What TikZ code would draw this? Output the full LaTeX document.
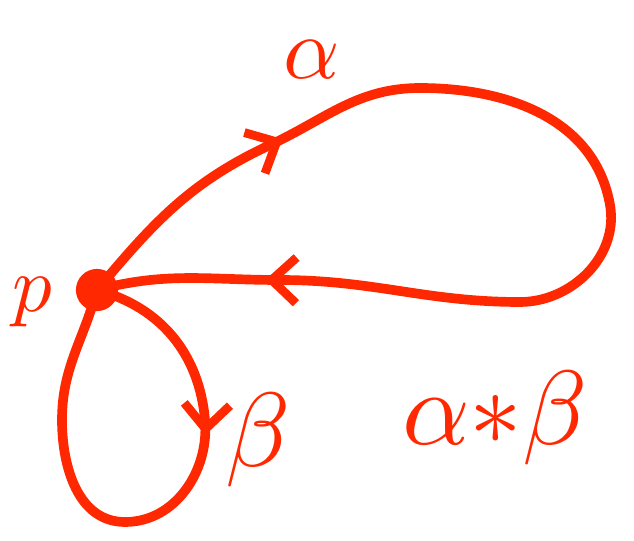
\documentclass[tikz,border=0pt]{standalone}
\usetikzlibrary{arrows.meta,decorations.markings}
\definecolor{pen}{RGB}{255,40,0}
\tikzset{
  stroke/.style={pen,line width=5.5pt,line cap=round,line join=round},
  mid/.style={postaction={decorate,decoration={markings,
    mark=at position #1 with {\arrow{Straight Barb[length=14pt,width=26pt,line width=5pt]}}}}},
  dot/.style={circle,fill=pen,inner sep=0pt,minimum size=24pt},
  lbl/.style={pen,inner sep=0pt}
}
\begin{document}
\begin{tikzpicture}[x=0.02cm,y=-0.02cm]
\useasboundingbox (0,0) rectangle (634,540);
\node[dot] (p) at (97,290) {};
\draw[stroke,mid=0.2,mid=0.86] (p.center) to[out=50,in=205] (270,145)
  to[out=25,in=180] (420,88) to[out=0,in=100] (610,205)
  to[out=-80,in=0] (520,302) to[out=180,in=0] (280,280)
  to[out=180,in=15] (p.center);
\draw[stroke,mid=0.33] (p.center) to[out=-15,in=95] (205,420)
  to[out=-85,in=0] (125,522) to[out=180,in=-90] (62,420)
  to[out=90,in=-105] (p.center);
\node[lbl] (plbl) at (32,302) {\scalebox{4.5}{$p$}};
\node[lbl] (albl) at (312,60) {\scalebox{5}{$\alpha$}};
\node[lbl] (blbl) at (258,440) {\scalebox{6}{$\beta$}};
\node[lbl] (prod) at (495,418) {\scalebox{6}{$\alpha{*}\beta$}};
\end{tikzpicture}
\end{document}
